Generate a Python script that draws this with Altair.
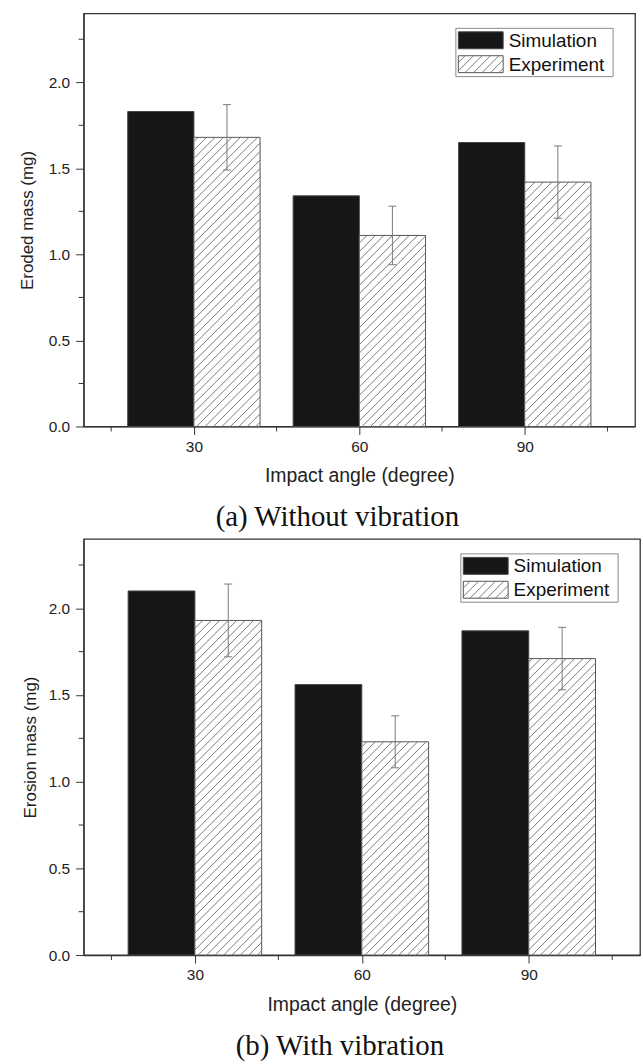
import altair as alt
import numpy as np
import pandas as pd

# ---------------- data ----------------
angles = [30, 60, 90]
series = ["Simulation", "Experiment"]

sim_a = [1.83, 1.34, 1.65]
exp_a = [1.68, 1.11, 1.42]
exp_a_lo = [1.49, 0.94, 1.21]
exp_a_hi = [1.87, 1.28, 1.63]

sim_b = [2.10, 1.56, 1.87]
exp_b = [1.93, 1.23, 1.71]
exp_b_lo = [1.72, 1.08, 1.53]
exp_b_hi = [2.14, 1.38, 1.89]

x_major = [30, 60, 90]
x_minor = [15, 45, 75, 105]
y_major = [0.0, 0.5, 1.0, 1.5, 2.0]
y_minor = [0.25, 0.75, 1.25, 1.75, 2.25]

# ---------------- style ----------------
X_DOM = [10, 110]
Y_DOM = [0, 2.4]
BAR_W = 12
SANS = "Liberation Sans"
SERIF = "Liberation Serif"
HATCH_GAP = 8.5
CAP_PX = 4
AXC = "#333333"


def hatch_segments(rects, kx, ky, gap=HATCH_GAP):
    rows = []
    for (x0, x1, y0, y1) in rects:
        bw = (x1 - x0) * kx
        bh = (y1 - y0) * ky
        for t in np.arange(-bw + gap / 2, bh, gap):
            xs = max(0.0, -t)
            xe = min(bw, bh - t)
            if xe <= xs:
                continue
            rows.append({"hx": x0 + xs / kx, "hy": y0 + (xs + t) / ky,
                         "hx2": x0 + xe / kx, "hy2": y0 + (xe + t) / ky})
    return pd.DataFrame(rows)


def panel(sim, exp, lo, hi, ytitle, caption, W, H, tpad):
    kx = W / (X_DOM[1] - X_DOM[0])
    ky = H / (Y_DOM[1] - Y_DOM[0])

    def px2x(p):
        return X_DOM[0] + p / kx

    def px2y(p):
        return Y_DOM[1] - p / ky

    df = pd.DataFrame({"angle": angles, "sim": sim, "exp": exp, "lo": lo, "hi": hi})
    xs = alt.Scale(domain=X_DOM, nice=False, zero=False)
    ys = alt.Scale(domain=Y_DOM, nice=False, zero=True)

    xaxis = alt.Axis(values=x_major, title="Impact angle (degree)", format="d",
                     tickSize=8, labelPadding=5, labelFontSize=15.5,
                     titleFontSize=19.5, titlePadding=12)
    yaxis = alt.Axis(values=y_major, title=ytitle, format=".1f",
                     tickSize=8, labelPadding=6, labelFontSize=15.5,
                     titleFontSize=17, titlePadding=tpad)

    def X(f):
        return alt.X(f, scale=xs, axis=xaxis)

    def Y(f):
        return alt.Y(f, scale=ys, axis=yaxis)

    base = alt.Chart(df)
    sim_bars = base.transform_calculate(x0=f"datum.angle - {BAR_W}").mark_rect(
        fill="#161616", stroke="#444444", strokeWidth=1
    ).encode(x=X("x0:Q"), x2="angle:Q", y=Y("sim:Q"), y2=alt.datum(0))
    exp_bars = base.transform_calculate(x1=f"datum.angle + {BAR_W}").mark_rect(
        fill="white", stroke="#555555", strokeWidth=1
    ).encode(x=X("angle:Q"), x2="x1:Q", y=Y("exp:Q"), y2=alt.datum(0))
    hdf = hatch_segments([(a, a + BAR_W, 0.0, e) for a, e in zip(angles, exp)], kx, ky)
    hatch = alt.Chart(hdf).mark_rule(color="#6a6a6a", strokeWidth=0.9).encode(
        x=X("hx:Q"), y=Y("hy:Q"), x2="hx2:Q", y2="hy2:Q"
    )
    cap = CAP_PX / kx
    err = base.transform_calculate(ex=f"datum.angle + {BAR_W / 2}").mark_rule(
        color="#7a7a7a", strokeWidth=1
    ).encode(x=X("ex:Q"), y=Y("lo:Q"), y2="hi:Q")
    caps_hi = base.transform_calculate(
        c0=f"datum.angle + {BAR_W / 2} - {cap}", c1=f"datum.angle + {BAR_W / 2} + {cap}"
    ).mark_rule(color="#7a7a7a", strokeWidth=1).encode(x=X("c0:Q"), x2="c1:Q", y=Y("hi:Q"))
    caps_lo = base.transform_calculate(
        c0=f"datum.angle + {BAR_W / 2} - {cap}", c1=f"datum.angle + {BAR_W / 2} + {cap}"
    ).mark_rule(color="#7a7a7a", strokeWidth=1).encode(x=X("c0:Q"), x2="c1:Q", y=Y("lo:Q"))
    xminor = alt.Chart(pd.DataFrame({"v": x_minor})).mark_rule(color=AXC, strokeWidth=1).encode(
        x=X("v:Q"), y=alt.value(H), y2=alt.value(H + 5)
    )
    yminor = alt.Chart(pd.DataFrame({"v": y_minor})).mark_rule(color=AXC, strokeWidth=1).encode(
        y=Y("v:Q"), x=alt.value(0), x2=alt.value(-5)
    )

    # legend (placed relative to the plot's top-right corner)
    bx0, bx1 = W - 180, W - 22
    sw0, sw1 = W - 177.5, W - 132.5
    boxes = pd.DataFrame({
        "lx": [px2x(bx0), px2x(sw0), px2x(sw0)],
        "lx2": [px2x(bx1), px2x(sw1), px2x(sw1)],
        "ly": [px2y(15), px2y(18.5), px2y(42.5)],
        "ly2": [px2y(63.5), px2y(35.5), px2y(59.5)],
        "fill": ["white", "#161616", "white"],
        "stroke": ["#8a8a8a", "#444444", "#555555"],
    })
    leg_box = alt.Chart(boxes).mark_rect(strokeWidth=1).encode(
        x=X("lx:Q"), x2="lx2:Q", y=Y("ly:Q"), y2="ly2:Q",
        fill=alt.Fill("fill:N", scale=None), stroke=alt.Stroke("stroke:N", scale=None),
    )
    lh = hatch_segments([(px2x(sw0), px2x(sw1), px2y(59.5), px2y(42.5))], kx, ky)
    leg_hatch = alt.Chart(lh).mark_rule(color="#6a6a6a", strokeWidth=0.9).encode(
        x=X("hx:Q"), y=Y("hy:Q"), x2="hx2:Q", y2="hy2:Q"
    )
    ltxt = pd.DataFrame({"tx": [px2x(W - 127)] * 2,
                         "ty": [px2y(27.5), px2y(51.5)],
                         "label": series})
    leg_text = alt.Chart(ltxt).mark_text(
        align="left", baseline="middle", font=SANS, fontSize=19, color="#111111"
    ).encode(x=X("tx:Q"), y=Y("ty:Q"), text="label:N")

    return alt.layer(
        sim_bars, exp_bars, hatch, err, caps_hi, caps_lo, xminor, yminor,
        leg_box, leg_hatch, leg_text
    ).properties(
        width=W, height=H,
        title=alt.TitleParams(caption, orient="bottom", font=SERIF, fontSize=29,
                              fontWeight="normal", color="#111111", anchor="middle",
                              frame="group", dx=-22, offset=18),
    )


top = panel(sim_a, exp_a, exp_a_lo, exp_a_hi, "Eroded mass (mg)",
            "(a) Without vibration", 554, 415, 12)
bottom = panel(sim_b, exp_b, exp_b_lo, exp_b_hi, "Erosion mass (mg)",
               "(b) With vibration", 559, 418, 9)

chart = alt.vconcat(top, bottom, spacing=5).properties(
    padding={"left": 17, "top": 10, "right": 2, "bottom": 2},
    background="white",
).configure_view(
    stroke=AXC, strokeWidth=1.3
).configure_axis(
    domainColor=AXC, tickColor=AXC, domainWidth=1.2, tickWidth=1,
    labelColor="#222222", titleColor="#222222",
    labelFont=SANS, titleFont=SANS, titleFontWeight="normal", grid=False,
)

chart.save("out.html", embed_options={"renderer": "svg", "actions": False})
